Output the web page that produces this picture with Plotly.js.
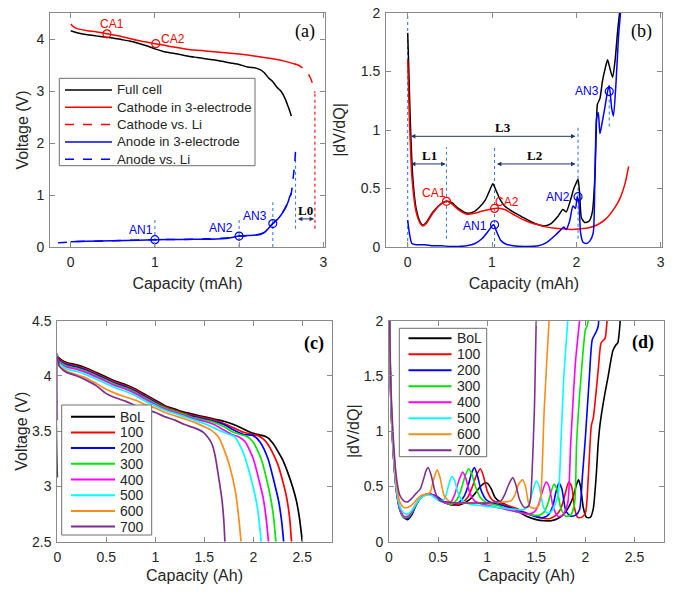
<!DOCTYPE html>
<html><head><meta charset="utf-8">
<script src="https://cdn.plot.ly/plotly-3.0.1.min.js"></script>
<style>html,body{margin:0;padding:0;background:#fff}#chart{width:682px;height:594px}</style>
</head><body><div id="chart"></div>
<script>
// ---------- Panel (a): voltage vs capacity ----------
const aFull_x = [0, 0.1, 0.2, 0.3, 0.4, 0.5, 0.6, 0.7, 0.8, 0.9, 1.0, 1.1, 1.2, 1.3, 1.4, 1.5, 1.6, 1.7, 1.8, 1.9, 2.0, 2.1, 2.2, 2.25, 2.3, 2.35, 2.4, 2.45, 2.5, 2.55, 2.58, 2.6, 2.62];
const aFull_v = [4.16, 4.11, 4.08, 4.06, 4.04, 4.02, 3.99, 3.96, 3.92, 3.87, 3.81, 3.76, 3.73, 3.7, 3.67, 3.645, 3.62, 3.6, 3.57, 3.54, 3.51, 3.46, 3.44, 3.41, 3.35, 3.25, 3.18, 3.07, 2.99, 2.84, 2.71, 2.62, 2.52];
const aCat_x = [0, 0.03, 0.06, 0.1, 0.2, 0.3, 0.43, 0.6, 0.8, 1.0, 1.2, 1.4, 1.6, 1.8, 2.0, 2.2, 2.4, 2.55, 2.68];
const aCat_v = [4.29, 4.24, 4.21, 4.19, 4.16, 4.14, 4.10, 4.05, 3.97, 3.91, 3.85, 3.8, 3.77, 3.74, 3.71, 3.67, 3.62, 3.57, 3.51];
const aCatLi_x = [2.66, 2.7, 2.74, 2.78, 2.82, 2.85, 2.88, 2.9];
const aCatLi_v = [3.52, 3.5, 3.46, 3.41, 3.33, 3.24, 3.1, 2.97];
const aAn_x = [0, 0.2, 0.5, 0.8, 1.0, 1.3, 1.6, 1.8, 1.9, 2.0, 2.1, 2.2, 2.25, 2.3, 2.35, 2.4, 2.45, 2.5, 2.55, 2.58, 2.6, 2.62];
const aAn_v = [0.1, 0.11, 0.12, 0.13, 0.14, 0.145, 0.15, 0.16, 0.18, 0.21, 0.22, 0.23, 0.24, 0.28, 0.36, 0.45, 0.52, 0.62, 0.75, 0.86, 0.96, 1.04];
const aAnLi_x = [-0.15, -0.05, 0, 0.5, 1.0, 1.5, 1.9, 2.0, 2.1, 2.2, 2.3, 2.4, 2.5, 2.58, 2.62, 2.64, 2.66, 2.67];
const aAnLi_v = [0.08, 0.09, 0.1, 0.12, 0.14, 0.15, 0.18, 0.21, 0.22, 0.23, 0.28, 0.45, 0.62, 0.86, 1.04, 1.3, 1.6, 1.85];
const aCA_x = [0.43, 1.01], aCA_v = [4.10, 3.91], aCA_lbl = ['CA1', 'CA2'], aCA_lx = [0.49, 1.21], aCA_ly = [4.29, 4.0];
const aAN_x = [1.0, 2.0, 2.4], aAN_v = [0.14, 0.21, 0.45], aAN_lbl = ['AN1', 'AN2', 'AN3'], aAN_lx = [0.83, 1.79, 2.19], aAN_ly = [0.32, 0.36, 0.59];
const aGuide_x = [1.0, 2.0, 2.4, 2.67], aGuide_lo = [0, 0, 0, 0.35], aGuide_hi = [0.55, 0.55, 0.86, 1.85];
const aCatGuide_x = [2.9], aCatGuide_lo = [0.35], aCatGuide_hi = [2.97];
const aArrow_x0 = [2.68], aArrow_x1 = [2.89], aArrow_y = [0.54], aArrow_lbl = ['L0'], aArrow_lx = [2.79], aArrow_ly = [0.71];
const aNames = ['Full cell', 'Cathode in 3-electrode', 'Cathode vs. Li', 'Anode in 3-electrode', 'Anode vs. Li'];

// ---------- Panel (b): |dV/dQ| vs capacity ----------
const bFull_x = [0, 0.01, 0.03, 0.06, 0.1, 0.15, 0.18, 0.22, 0.3, 0.4, 0.46, 0.52, 0.6, 0.7, 0.78, 0.85, 0.92, 0.97, 1.01, 1.05, 1.1, 1.15, 1.25, 1.35, 1.45, 1.55, 1.62, 1.7, 1.78, 1.84, 1.88, 1.93, 1.97, 2.0, 2.02, 2.04, 2.06, 2.1, 2.15, 2.19, 2.22, 2.24, 2.25, 2.28, 2.31, 2.34, 2.37, 2.4, 2.43, 2.46, 2.49, 2.52];
const bFull_y = [1.83, 1.6, 1.1, 0.6, 0.33, 0.21, 0.185, 0.21, 0.3, 0.37, 0.39, 0.38, 0.33, 0.29, 0.3, 0.34, 0.4, 0.48, 0.54, 0.48, 0.4, 0.35, 0.3, 0.26, 0.22, 0.19, 0.18, 0.2, 0.26, 0.32, 0.3, 0.4, 0.5, 0.55, 0.58, 0.45, 0.25, 0.21, 0.22, 0.3, 0.6, 1.1, 1.22, 1.27, 1.42, 1.52, 1.6, 1.52, 1.45, 1.6, 1.85, 2.05];
const bCat_x = [0, 0.02, 0.05, 0.1, 0.15, 0.18, 0.22, 0.3, 0.4, 0.46, 0.52, 0.6, 0.7, 0.8, 0.9, 1.03, 1.15, 1.25, 1.35, 1.45, 1.55, 1.65, 1.75, 1.85, 1.95, 2.05, 2.15, 2.25, 2.35, 2.45, 2.52, 2.58, 2.62];
const bCat_y = [1.6, 1.1, 0.6, 0.3, 0.2, 0.18, 0.2, 0.29, 0.37, 0.39, 0.37, 0.32, 0.28, 0.29, 0.31, 0.33, 0.32, 0.28, 0.24, 0.21, 0.19, 0.17, 0.16, 0.155, 0.15, 0.155, 0.165, 0.19, 0.24, 0.33, 0.42, 0.55, 0.69];
const bAn_x = [0, 0.02, 0.05, 0.1, 0.2, 0.3, 0.4, 0.5, 0.6, 0.7, 0.8, 0.88, 0.95, 1.0, 1.02, 1.05, 1.1, 1.15, 1.25, 1.4, 1.55, 1.65, 1.75, 1.82, 1.85, 1.88, 1.92, 1.96, 1.99, 2.01, 2.03, 2.05, 2.08, 2.12, 2.16, 2.2, 2.22, 2.24, 2.26, 2.28, 2.31, 2.34, 2.37, 2.39, 2.42, 2.44, 2.47, 2.5, 2.53];
const bAn_y = [0.23, 0.12, 0.03, 0.02, 0.02, 0.01, 0.01, 0.005, 0.005, 0.01, 0.03, 0.07, 0.13, 0.18, 0.19, 0.14, 0.06, 0.03, 0.01, 0.005, 0.01, 0.04, 0.1, 0.15, 0.17, 0.15, 0.22, 0.35, 0.33, 0.43, 0.38, 0.12, 0.04, 0.03, 0.05, 0.12, 0.6, 1.1, 1.15, 0.97, 1.08, 1.2, 1.33, 1.38, 1.18, 1.12, 1.4, 1.8, 2.05];
const bCA_x = [0.46, 1.03], bCA_y = [0.39, 0.33], bCA_lbl = ['CA1', 'CA2'], bCA_lx = [0.31, 1.18], bCA_ly = [0.46, 0.385];
const bAN_x = [1.03, 2.02, 2.39], bAN_y = [0.19, 0.43, 1.33], bAN_lbl = ['AN1', 'AN2', 'AN3'], bAN_lx = [0.80, 1.78, 2.13], bAN_ly = [0.177, 0.43, 1.33];
const bGuide_x = [0, 0.46, 1.03, 2.02, 2.39], bGuide_lo = [0, 0.07, 0, 0.07, 1.03], bGuide_hi = [2, 0.855, 0.855, 1.03, 1.3];
const bArrow_x0 = [0.02, 0.02, 1.04], bArrow_x1 = [1.99, 0.45, 1.99], bArrow_y = [0.946, 0.71, 0.71];
const bArrow_lbl = ['L3', 'L1', 'L2'], bArrow_lx = [1.13, 0.26, 1.5], bArrow_ly = [1.02, 0.78, 0.78];

// ---------- Panel (c): voltage vs capacity for cycles ----------
const cycles = ['BoL', '100', '200', '300', '400', '500', '600', '700'];
const cycleColors = ['#000000', '#ff0000', '#0000ff', '#00e600', '#ff00ff', '#00ffff', '#ff8c1a', '#7e2f8e'];
const cBoL_x = [0, 0, 0.02, 0.05, 0.1, 0.2, 0.3, 0.4, 0.5, 0.6, 0.7, 0.8, 0.9, 1.0, 1.1, 1.2, 1.3, 1.4, 1.5, 1.6, 1.7, 1.8, 1.9, 2.0, 2.1, 2.15, 2.2, 2.25, 2.3, 2.35, 2.4, 2.44, 2.47, 2.49, 2.5];
const cBoL_v = [3.08, 4.17, 4.16, 4.14, 4.12, 4.1, 4.07, 4.03, 3.99, 3.95, 3.92, 3.88, 3.83, 3.78, 3.73, 3.7, 3.67, 3.65, 3.63, 3.61, 3.59, 3.56, 3.52, 3.48, 3.46, 3.44, 3.39, 3.32, 3.24, 3.13, 3.0, 2.87, 2.72, 2.58, 2.5];
const c100_x = [0, 0.02, 0.05, 0.1, 0.2, 0.3, 0.4, 0.5, 0.6, 0.7, 0.8, 0.9, 1.0, 1.1, 1.2, 1.3, 1.4, 1.5, 1.6, 1.7, 1.8, 1.9, 2.0, 2.05, 2.1, 2.15, 2.2, 2.25, 2.3, 2.34, 2.37, 2.39];
const c100_v = [4.16, 4.15, 4.13, 4.11, 4.09, 4.06, 4.02, 3.98, 3.94, 3.91, 3.87, 3.82, 3.77, 3.72, 3.69, 3.66, 3.64, 3.62, 3.6, 3.57, 3.53, 3.49, 3.47, 3.46, 3.43, 3.38, 3.3, 3.2, 3.05, 2.9, 2.72, 2.5];
const c200_x = [0, 0.02, 0.05, 0.1, 0.2, 0.3, 0.4, 0.5, 0.6, 0.7, 0.8, 0.9, 1.0, 1.1, 1.2, 1.3, 1.4, 1.5, 1.6, 1.7, 1.8, 1.9, 2.0, 2.07, 2.15, 2.21, 2.26, 2.29, 2.31];
const c200_v = [4.15, 4.14, 4.12, 4.1, 4.08, 4.05, 4.01, 3.97, 3.93, 3.9, 3.86, 3.81, 3.76, 3.71, 3.68, 3.65, 3.63, 3.61, 3.59, 3.56, 3.51, 3.47, 3.46, 3.4, 3.25, 3.05, 2.86, 2.68, 2.5];
const c300_x = [0, 0.02, 0.05, 0.1, 0.2, 0.3, 0.4, 0.5, 0.6, 0.7, 0.8, 0.9, 1.0, 1.1, 1.2, 1.3, 1.4, 1.5, 1.6, 1.7, 1.8, 1.87, 1.94, 2.0, 2.08, 2.14, 2.18, 2.21, 2.23];
const c300_v = [4.14, 4.13, 4.11, 4.09, 4.07, 4.04, 4.0, 3.96, 3.92, 3.89, 3.85, 3.8, 3.75, 3.71, 3.68, 3.65, 3.62, 3.6, 3.58, 3.54, 3.49, 3.47, 3.45, 3.4, 3.25, 3.05, 2.88, 2.7, 2.5];
const c400_x = [0, 0.02, 0.05, 0.1, 0.2, 0.3, 0.4, 0.5, 0.6, 0.7, 0.8, 0.9, 1.0, 1.1, 1.2, 1.3, 1.4, 1.5, 1.6, 1.7, 1.78, 1.85, 1.92, 2.0, 2.06, 2.1, 2.13, 2.155];
const c400_v = [4.13, 4.12, 4.1, 4.08, 4.06, 4.03, 3.99, 3.95, 3.91, 3.88, 3.84, 3.79, 3.74, 3.7, 3.67, 3.64, 3.61, 3.59, 3.56, 3.51, 3.47, 3.45, 3.4, 3.25, 3.05, 2.9, 2.72, 2.5];
const c500_x = [0, 0.02, 0.05, 0.1, 0.2, 0.3, 0.4, 0.5, 0.6, 0.7, 0.8, 0.9, 1.0, 1.1, 1.2, 1.3, 1.4, 1.5, 1.6, 1.7, 1.76, 1.81, 1.9, 1.98, 2.04, 2.07, 2.08];
const c500_v = [4.12, 4.11, 4.09, 4.06, 4.04, 4.01, 3.97, 3.93, 3.89, 3.86, 3.82, 3.77, 3.73, 3.69, 3.66, 3.63, 3.6, 3.57, 3.53, 3.49, 3.47, 3.45, 3.3, 3.06, 2.82, 2.6, 2.5];
const c600_x = [0, 0.02, 0.05, 0.1, 0.2, 0.3, 0.4, 0.5, 0.6, 0.7, 0.8, 0.9, 1.0, 1.1, 1.2, 1.3, 1.4, 1.5, 1.57, 1.61, 1.65, 1.69, 1.76, 1.82, 1.85, 1.875];
const c600_v = [4.11, 4.09, 4.07, 4.04, 4.01, 3.98, 3.93, 3.88, 3.84, 3.81, 3.78, 3.74, 3.71, 3.67, 3.64, 3.61, 3.58, 3.54, 3.51, 3.48, 3.44, 3.36, 3.18, 2.94, 2.73, 2.5];
const c700_x = [0, 0, 0.02, 0.05, 0.1, 0.2, 0.3, 0.4, 0.5, 0.6, 0.7, 0.8, 0.9, 1.0, 1.1, 1.2, 1.3, 1.4, 1.49, 1.54, 1.58, 1.61, 1.64, 1.68, 1.7, 1.71];
const c700_v = [3.6, 4.2, 4.09, 4.06, 4.03, 4.0, 3.96, 3.91, 3.84, 3.8, 3.77, 3.73, 3.7, 3.67, 3.63, 3.6, 3.56, 3.53, 3.49, 3.44, 3.38, 3.28, 3.12, 2.88, 2.68, 2.5];

// ---------- Panel (d): |dV/dQ| for cycles ----------
const dBoL_x = [0, 0.02, 0.05, 0.08, 0.11, 0.15, 0.19, 0.23, 0.28, 0.33, 0.38, 0.43, 0.5, 0.58, 0.66, 0.74, 0.82, 0.88, 0.93, 0.97, 1.0, 1.04, 1.08, 1.13, 1.2, 1.3, 1.4, 1.5, 1.58, 1.65, 1.72, 1.78, 1.84, 1.88, 1.91, 1.93, 1.95, 1.98, 2.01, 2.05, 2.08, 2.11, 2.13, 2.15, 2.19, 2.23, 2.28, 2.31, 2.33, 2.35, 2.36];
const dBoL_y = [2.3, 1.3, 0.75, 0.45, 0.3, 0.22, 0.2, 0.24, 0.34, 0.4, 0.43, 0.43, 0.4, 0.35, 0.33, 0.34, 0.38, 0.44, 0.5, 0.53, 0.53, 0.48, 0.4, 0.36, 0.33, 0.28, 0.23, 0.2, 0.19, 0.19, 0.21, 0.25, 0.33, 0.42, 0.52, 0.56, 0.5, 0.3, 0.22, 0.22, 0.3, 0.6, 0.89, 1.07, 1.3, 1.49, 1.73, 1.78, 1.8, 1.95, 2.1];
const d100_x = [0, 0.02, 0.05, 0.08, 0.11, 0.15, 0.19, 0.23, 0.28, 0.33, 0.38, 0.43, 0.5, 0.58, 0.66, 0.74, 0.8, 0.85, 0.89, 0.93, 0.96, 1.0, 1.05, 1.12, 1.2, 1.3, 1.4, 1.5, 1.58, 1.64, 1.7, 1.75, 1.79, 1.83, 1.86, 1.89, 1.92, 1.96, 2.0, 2.03, 2.06, 2.08, 2.13, 2.16, 2.2, 2.22, 2.23];
const d100_y = [2.3, 1.25, 0.72, 0.43, 0.29, 0.22, 0.21, 0.25, 0.34, 0.4, 0.43, 0.43, 0.4, 0.35, 0.33, 0.35, 0.4, 0.5, 0.6, 0.66, 0.6, 0.46, 0.38, 0.35, 0.33, 0.3, 0.26, 0.23, 0.21, 0.21, 0.24, 0.3, 0.42, 0.54, 0.5, 0.3, 0.22, 0.22, 0.26, 0.6, 1.05, 1.12, 1.55, 1.8, 1.84, 2.0, 2.1];
const d200_x = [0, 0.02, 0.05, 0.08, 0.11, 0.15, 0.19, 0.23, 0.28, 0.33, 0.38, 0.43, 0.5, 0.58, 0.66, 0.72, 0.77, 0.81, 0.84, 0.87, 0.9, 0.94, 0.99, 1.05, 1.15, 1.25, 1.35, 1.45, 1.52, 1.58, 1.63, 1.67, 1.7, 1.73, 1.76, 1.8, 1.85, 1.9, 1.94, 1.97, 2.0, 2.04, 2.07, 2.11, 2.13, 2.14];
const d200_y = [2.3, 1.25, 0.72, 0.43, 0.29, 0.22, 0.21, 0.25, 0.34, 0.4, 0.43, 0.43, 0.4, 0.35, 0.34, 0.36, 0.42, 0.52, 0.62, 0.67, 0.6, 0.46, 0.38, 0.35, 0.33, 0.3, 0.27, 0.24, 0.22, 0.22, 0.25, 0.33, 0.45, 0.53, 0.48, 0.28, 0.23, 0.24, 0.29, 0.6, 0.95, 1.49, 1.83, 1.9, 1.95, 2.1];
const d300_x = [0, 0.02, 0.05, 0.08, 0.11, 0.15, 0.19, 0.23, 0.28, 0.33, 0.38, 0.43, 0.5, 0.58, 0.64, 0.69, 0.73, 0.77, 0.81, 0.84, 0.88, 0.93, 1.0, 1.1, 1.2, 1.3, 1.4, 1.47, 1.53, 1.58, 1.62, 1.65, 1.68, 1.71, 1.75, 1.8, 1.85, 1.89, 1.91, 1.955, 2.0, 2.02, 2.04];
const d300_y = [2.3, 1.25, 0.72, 0.43, 0.29, 0.22, 0.22, 0.26, 0.34, 0.4, 0.43, 0.43, 0.39, 0.35, 0.34, 0.38, 0.46, 0.58, 0.66, 0.62, 0.5, 0.4, 0.35, 0.33, 0.3, 0.27, 0.25, 0.24, 0.24, 0.27, 0.35, 0.45, 0.52, 0.48, 0.3, 0.23, 0.24, 0.35, 0.89, 1.49, 1.92, 1.96, 2.1];
const d400_x = [0, 0.02, 0.05, 0.08, 0.11, 0.15, 0.19, 0.23, 0.28, 0.33, 0.38, 0.43, 0.5, 0.57, 0.63, 0.67, 0.71, 0.75, 0.78, 0.82, 0.87, 0.95, 1.05, 1.15, 1.25, 1.35, 1.42, 1.48, 1.52, 1.56, 1.6, 1.63, 1.67, 1.72, 1.77, 1.82, 1.85, 1.9, 1.94, 1.95];
const d400_y = [2.3, 1.25, 0.72, 0.43, 0.3, 0.23, 0.23, 0.27, 0.35, 0.4, 0.43, 0.43, 0.39, 0.35, 0.36, 0.43, 0.55, 0.63, 0.58, 0.45, 0.37, 0.34, 0.32, 0.3, 0.28, 0.26, 0.25, 0.27, 0.33, 0.45, 0.54, 0.5, 0.32, 0.23, 0.24, 0.35, 0.89, 1.64, 2.0, 2.1];
const d500_x = [0, 0.02, 0.05, 0.08, 0.11, 0.15, 0.19, 0.23, 0.28, 0.33, 0.38, 0.43, 0.49, 0.54, 0.58, 0.61, 0.64, 0.67, 0.7, 0.75, 0.82, 0.9, 1.0, 1.1, 1.2, 1.3, 1.37, 1.42, 1.46, 1.5, 1.53, 1.57, 1.61, 1.65, 1.72, 1.75, 1.78, 1.82, 1.83];
const d500_y = [2.3, 1.3, 0.75, 0.45, 0.32, 0.26, 0.25, 0.28, 0.35, 0.4, 0.42, 0.42, 0.38, 0.36, 0.42, 0.52, 0.59, 0.55, 0.45, 0.37, 0.34, 0.33, 0.32, 0.31, 0.3, 0.29, 0.29, 0.33, 0.45, 0.55, 0.5, 0.32, 0.26, 0.27, 0.41, 0.89, 1.49, 2.0, 2.1];
const d600_x = [0, 0.02, 0.05, 0.08, 0.11, 0.15, 0.19, 0.23, 0.28, 0.33, 0.38, 0.42, 0.45, 0.49, 0.52, 0.56, 0.62, 0.7, 0.8, 0.9, 1.0, 1.1, 1.18, 1.24, 1.28, 1.32, 1.36, 1.39, 1.43, 1.48, 1.52, 1.545, 1.58, 1.63, 1.64];
const d600_y = [2.3, 1.35, 0.8, 0.5, 0.36, 0.31, 0.31, 0.33, 0.38, 0.42, 0.43, 0.45, 0.55, 0.65, 0.58, 0.42, 0.36, 0.35, 0.35, 0.35, 0.35, 0.36, 0.36, 0.37, 0.42, 0.52, 0.56, 0.5, 0.32, 0.3, 0.32, 0.41, 1.19, 2.0, 2.1];
const d700_x = [0, 0.02, 0.05, 0.08, 0.11, 0.15, 0.19, 0.23, 0.28, 0.32, 0.35, 0.38, 0.4, 0.43, 0.47, 0.52, 0.6, 0.7, 0.8, 0.9, 1.0, 1.08, 1.14, 1.18, 1.22, 1.26, 1.29, 1.33, 1.38, 1.42, 1.44, 1.48, 1.5, 1.51];
const d700_y = [2.3, 1.4, 0.85, 0.55, 0.42, 0.37, 0.36, 0.39, 0.44, 0.48, 0.56, 0.65, 0.67, 0.6, 0.45, 0.37, 0.36, 0.35, 0.35, 0.35, 0.35, 0.36, 0.37, 0.43, 0.52, 0.58, 0.52, 0.38, 0.31, 0.32, 0.38, 1.19, 2.0, 2.1];

// ---------- build ----------
const W = 682, H = 594;
const PX = x => x / W, PY = y => 1 - y / H;
const FONT = 'Liberation Sans, Arial, sans-serif';
const SERIF = 'Liberation Serif, Times New Roman, serif';
const TXT = '#262626', AXC = '#8a8a8a', GUIDE = '#3d7fd9', ARROWC = '#1f3864';
const RED = '#ff0000', BLUE = '#0000ff';

const traces = [];
function line(x, y, xa, ya, color, width, dash, shape) {
  traces.push({type: 'scatter', mode: 'lines', x: x, y: y, xaxis: xa, yaxis: ya, showlegend: false, hoverinfo: 'skip',
    line: {color: color, width: width, dash: dash || 'solid', shape: shape || 'spline', smoothing: 0.6}});
}
function markers(x, y, xa, ya, color) {
  traces.push({type: 'scatter', mode: 'markers', x: x, y: y, xaxis: xa, yaxis: ya, showlegend: false, hoverinfo: 'skip',
    marker: {symbol: 'circle-open', size: 8, color: color, line: {color: color, width: 1.2}}});
}
function guides(xs, lo, hi, xa, ya, color) {
  xs.forEach((g, i) => line([g, g], [lo[i], hi[i]], xa, ya, color, 1.1, 'dot', 'linear'));
}

// (a)
guides(aGuide_x, aGuide_lo, aGuide_hi, 'x', 'y', GUIDE);
guides(aCatGuide_x, aCatGuide_lo, aCatGuide_hi, 'x', 'y', RED);
line(aFull_x, aFull_v, 'x', 'y', '#000', 1.5);
line(aCat_x, aCat_v, 'x', 'y', RED, 1.5);
line(aCatLi_x, aCatLi_v, 'x', 'y', RED, 1.5, 'dash');
line(aAn_x, aAn_v, 'x', 'y', BLUE, 1.5);
line(aAnLi_x, aAnLi_v, 'x', 'y', BLUE, 1.5, 'dash');
markers(aCA_x, aCA_v, 'x', 'y', RED);
markers(aAN_x, aAN_v, 'x', 'y', BLUE);

// (b)
guides(bGuide_x, bGuide_lo, bGuide_hi, 'x2', 'y2', GUIDE);
line(bFull_x, bFull_y, 'x2', 'y2', '#000', 1.5);
line(bCat_x, bCat_y, 'x2', 'y2', RED, 1.5);
line(bAn_x, bAn_y, 'x2', 'y2', BLUE, 1.5);
markers(bCA_x, bCA_y, 'x2', 'y2', RED);
markers(bAN_x, bAN_y, 'x2', 'y2', BLUE);

// (c), (d)
const cX = [cBoL_x, c100_x, c200_x, c300_x, c400_x, c500_x, c600_x, c700_x];
const cV = [cBoL_v, c100_v, c200_v, c300_v, c400_v, c500_v, c600_v, c700_v];
const dX = [dBoL_x, d100_x, d200_x, d300_x, d400_x, d500_x, d600_x, d700_x];
const dY = [dBoL_y, d100_y, d200_y, d300_y, d400_y, d500_y, d600_y, d700_y];
cycles.forEach((c, i) => line(cX[i], cV[i], 'x3', 'y3', cycleColors[i], 1.7));
cycles.forEach((c, i) => line(dX[i], dY[i], 'x4', 'y4', cycleColors[i], 1.6));

// annotations
const annotations = [];
function labels(txt, xs, ys, xr, yr, color) {
  txt.forEach((t, i) => annotations.push({text: t, x: xs[i], y: ys[i], xref: xr, yref: yr, showarrow: false,
    font: {family: FONT, size: 12, color: color}, xanchor: 'center', yanchor: 'middle'}));
}
function arrows(x0, x1, y, lbl, lx, ly, xr, yr) {
  x0.forEach((v, i) => {
    annotations.push({text: '', x: x1[i], y: y[i], ax: v, ay: y[i], xref: xr, yref: yr, axref: xr, ayref: yr,
      showarrow: true, arrowside: 'end+start', arrowhead: 2, arrowsize: 0.9, arrowwidth: 1, arrowcolor: ARROWC});
    annotations.push({text: '<b>' + lbl[i] + '</b>', x: lx[i], y: ly[i], xref: xr, yref: yr, showarrow: false,
      font: {family: SERIF, size: 13, color: '#000'}, xanchor: 'center', yanchor: 'middle'});
  });
}
labels(aCA_lbl, aCA_lx, aCA_ly, 'x', 'y', RED);
labels(aAN_lbl, aAN_lx, aAN_ly, 'x', 'y', BLUE);
labels(bCA_lbl, bCA_lx, bCA_ly, 'x2', 'y2', RED);
labels(bAN_lbl, bAN_lx, bAN_ly, 'x2', 'y2', BLUE);
arrows(aArrow_x0, aArrow_x1, aArrow_y, aArrow_lbl, aArrow_lx, aArrow_ly, 'x', 'y');
arrows(bArrow_x0, bArrow_x1, bArrow_y, bArrow_lbl, bArrow_lx, bArrow_ly, 'x2', 'y2');

// panel letters
[['(a)', 305, 32, false], ['(b)', 641.7, 32, false], ['(c)', 313.8, 343, true], ['(d)', 643.3, 342.5, true]].forEach(p => {
  annotations.push({text: p[3] ? '<b>' + p[0] + '</b>' : p[0], x: PX(p[1]), y: PY(p[2]), xref: 'paper', yref: 'paper',
    showarrow: false, xanchor: 'center', yanchor: 'middle', font: {family: SERIF, size: 18, color: '#000'}});
});

// manual legends (compact MATLAB style)
const shapes = [];
function legend(box, rowTop, pitch, lineX0, lineX1, textX, names, colors, dashes, width, fsize) {
  shapes.push({type: 'rect', xref: 'paper', yref: 'paper', x0: PX(box[0]), x1: PX(box[2]), y0: PY(box[3]), y1: PY(box[1]),
    line: {color: '#6e6e6e', width: 1}, fillcolor: '#ffffff', layer: 'above'});
  names.forEach((n, i) => {
    const yy = rowTop + i * pitch;
    shapes.push({type: 'line', xref: 'paper', yref: 'paper', x0: PX(lineX0), x1: PX(lineX1), y0: PY(yy), y1: PY(yy),
      line: {color: colors[i], width: width, dash: dashes[i]}, layer: 'above'});
    annotations.push({text: n, x: PX(textX), y: PY(yy), xref: 'paper', yref: 'paper', showarrow: false,
      xanchor: 'left', yanchor: 'middle', font: {family: FONT, size: fsize, color: TXT}});
  });
}
legend([59.3, 78.3, 255, 165.7], 90, 17.3, 65, 112, 115, aNames, ['#000', RED, RED, BLUE, BLUE],
  ['solid', 'solid', 'dash', 'solid', 'dash'], 1.5, 13.3);
const solids = cycles.map(() => 'solid');
legend([61.7, 405, 151.7, 535], 416.7, 15.7, 71, 115, 118, cycles, cycleColors, solids, 2, 14);
legend([399.3, 328.3, 486.7, 456.7], 338.3, 16, 408.5, 451.5, 455, cycles, cycleColors, solids, 2, 14);

// axes
function ax(domain, range, dtick, anchor, title, standoff) {
  return {domain: domain, range: range, dtick: dtick, tick0: 0, anchor: anchor, showline: true, linecolor: AXC, linewidth: 1,
    mirror: 'ticks', ticks: 'inside', ticklen: 5, tickwidth: 1, tickcolor: AXC, showgrid: false, zeroline: false,
    tickfont: {family: FONT, size: 14, color: TXT}, ticklabelstandoff: 2, automargin: false, fixedrange: true,
    title: {text: title, font: {family: FONT, size: 16, color: TXT}, standoff: standoff}};
}
const topD = [PY(247), PY(13)], botD = [PY(541.7), PY(320.7)];
const layout = {
  width: W, height: H, margin: {l: 0, r: 0, t: 0, b: 0}, paper_bgcolor: '#fff', plot_bgcolor: '#fff', showlegend: false,
  xaxis: ax([PX(50), PX(325)], [-0.246, 3.02], 1, 'y', 'Capacity (mAh)', 9),
  yaxis: ax(topD, [0, 4.5], 1, 'x', 'Voltage (V)', 3),
  xaxis2: ax([PX(386), PX(661.7)], [-0.257, 3.012], 1, 'y2', 'Capacity (mAh)', 9),
  yaxis2: ax(topD, [0, 2], 0.5, 'x2', '|dV/dQ|', 11),
  xaxis3: ax([PX(57.3), PX(331.7)], [0, 2.8], 0.5, 'y3', 'Capacity (Ah)', 6),
  yaxis3: ax(botD, [2.5, 4.5], 0.5, 'x3', 'Voltage (V)', 0),
  xaxis4: ax([PX(389), PX(664)], [0, 2.8], 0.5, 'y4', 'Capacity (Ah)', 6),
  yaxis4: ax(botD, [0, 2], 0.5, 'x4', '|dV/dQ|', 0),
  annotations: annotations, shapes: shapes
};
Plotly.newPlot('chart', traces, layout, {displayModeBar: false, staticPlot: true});
</script></body></html>
